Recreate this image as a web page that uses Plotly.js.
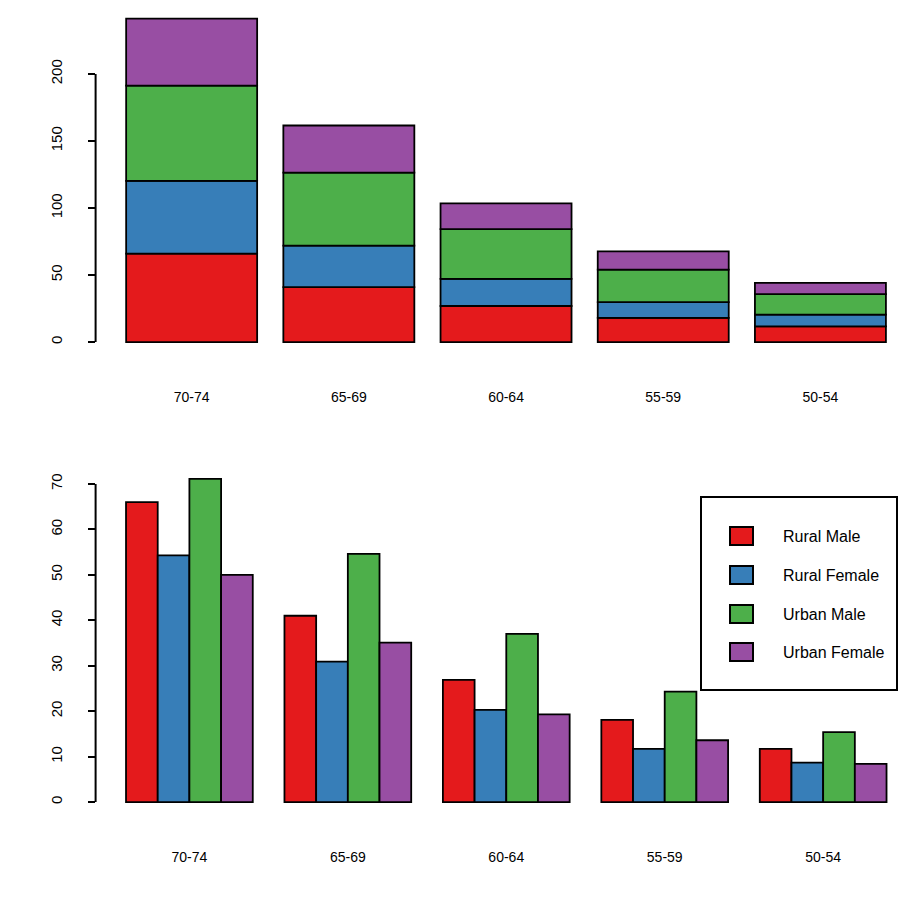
<!DOCTYPE html>
<html><head><meta charset="utf-8">
<script src="https://cdn.plot.ly/plotly-3.0.1.min.js"></script>
<style>body{margin:0;background:#fff}</style>
</head><body><div id="chart" style="width:921px;height:921px"></div>
<script>
const ageGroups = ['70-74','65-69','60-64','55-59','50-54'];
const seriesNames = ['Rural Male','Rural Female','Urban Male','Urban Female'];
const ruralMale = [66.0,41.0,26.9,18.1,11.7];
const ruralFemale = [54.3,30.9,20.3,11.7,8.7];
const urbanMale = [71.1,54.6,37.0,24.3,15.4];
const urbanFemale = [50.0,35.1,19.3,13.6,8.4];
const seriesColors = ['#E41A1C','#377EB8','#4DAF4A','#984EA3'];
const topTicks = [0,50,100,150,200];
const bottomTicks = [0,10,20,30,40,50,60,70];

const series = [ruralMale, ruralFemale, urbanMale, urbanFemale];
const FONT = 'Liberation Sans, Arial, sans-serif';
const traces = [];
let cum = ageGroups.map(() => 0);
series.forEach((vals, k) => {
  traces.push({
    type: 'bar', x: ageGroups, y: vals, base: cum.slice(),
    width: 0.8333, name: seriesNames[k], showlegend: false,
    marker: {color: seriesColors[k], line: {color: '#000', width: 1.8}},
    xaxis: 'x', yaxis: 'y', hoverinfo: 'skip'
  });
  cum = cum.map((c, i) => c + vals[i]);
});
series.forEach((vals, k) => {
  traces.push({
    type: 'bar', x: ageGroups, y: vals,
    width: 0.2, offset: -0.4 + 0.2 * k, name: seriesNames[k], showlegend: false,
    marker: {color: seriesColors[k], line: {color: '#000', width: 1.8}},
    xaxis: 'x2', yaxis: 'y2', hoverinfo: 'skip'
  });
});

const px = v => v / 921;
const py = v => 1 - v / 921;

const xCommon = {showline: false, showgrid: false, zeroline: false, ticks: '',
  tickfont: {family: FONT, size: 14, color: '#000'}, ticklabelstandoff: 32, automargin: false, fixedrange: true};
const yCommon = {showline: false, showgrid: false, zeroline: false, ticks: 'outside', ticklen: 7, tickwidth: 2,
  tickcolor: '#000', tickangle: -90, tickfont: {family: FONT, size: 15, color: '#000'},
  ticklabelstandoff: 20, automargin: false, fixedrange: true};

const shapes = [
  {type: 'line', xref: 'x domain', yref: 'y', x0: 0, x1: 0, y0: topTicks[0], y1: topTicks[topTicks.length-1], line: {color: '#000', width: 2}},
  {type: 'line', xref: 'x2 domain', yref: 'y2', x0: 0, x1: 0, y0: bottomTicks[0], y1: bottomTicks[bottomTicks.length-1], line: {color: '#000', width: 2}},
  {type: 'rect', xref: 'paper', yref: 'paper', x0: px(701), x1: px(897), y0: py(690), y1: py(497), line: {color: '#000', width: 2}, fillcolor: '#fff', layer: 'above'}
];
const annotations = [];
const legendY = [536, 575, 614, 652];
seriesNames.forEach((nm, k) => {
  shapes.push({type: 'rect', xref: 'paper', yref: 'paper', x0: px(730), x1: px(753),
    y0: py(legendY[k] + 9), y1: py(legendY[k] - 9), fillcolor: seriesColors[k],
    line: {color: '#000', width: 2}, layer: 'above'});
  annotations.push({xref: 'paper', yref: 'paper', x: px(781), y: py(legendY[k]), text: nm,
    showarrow: false, xanchor: 'left', yanchor: 'middle', font: {family: FONT, size: 16, color: '#000'}});
});

const layout = {
  width: 921, height: 921, margin: {l: 0, r: 0, t: 0, b: 0},
  paper_bgcolor: '#fff', plot_bgcolor: 'rgba(0,0,0,0)',
  barmode: 'overlay', showlegend: false,
  xaxis: Object.assign({}, xCommon, {domain: [px(95.6), px(916)], range: [-0.611, 4.608], anchor: 'y',
    type: 'category', categoryorder: 'array', categoryarray: ageGroups}),
  yaxis: Object.assign({}, yCommon, {domain: [py(355), py(5.6)], range: [-9.656, 251.056], anchor: 'x', tickvals: topTicks}),
  xaxis2: Object.assign({}, xCommon, {domain: [px(95.6), px(916)], range: [-0.592, 4.586], anchor: 'y2',
    type: 'category', categoryorder: 'array', categoryarray: ageGroups}),
  yaxis2: Object.assign({}, yCommon, {domain: [py(815), py(466)], range: [-2.844, 73.944], anchor: 'x2', tickvals: bottomTicks}),
  shapes: shapes, annotations: annotations
};
Plotly.newPlot('chart', traces, layout, {displayModeBar: false, staticPlot: true});
</script></body></html>
